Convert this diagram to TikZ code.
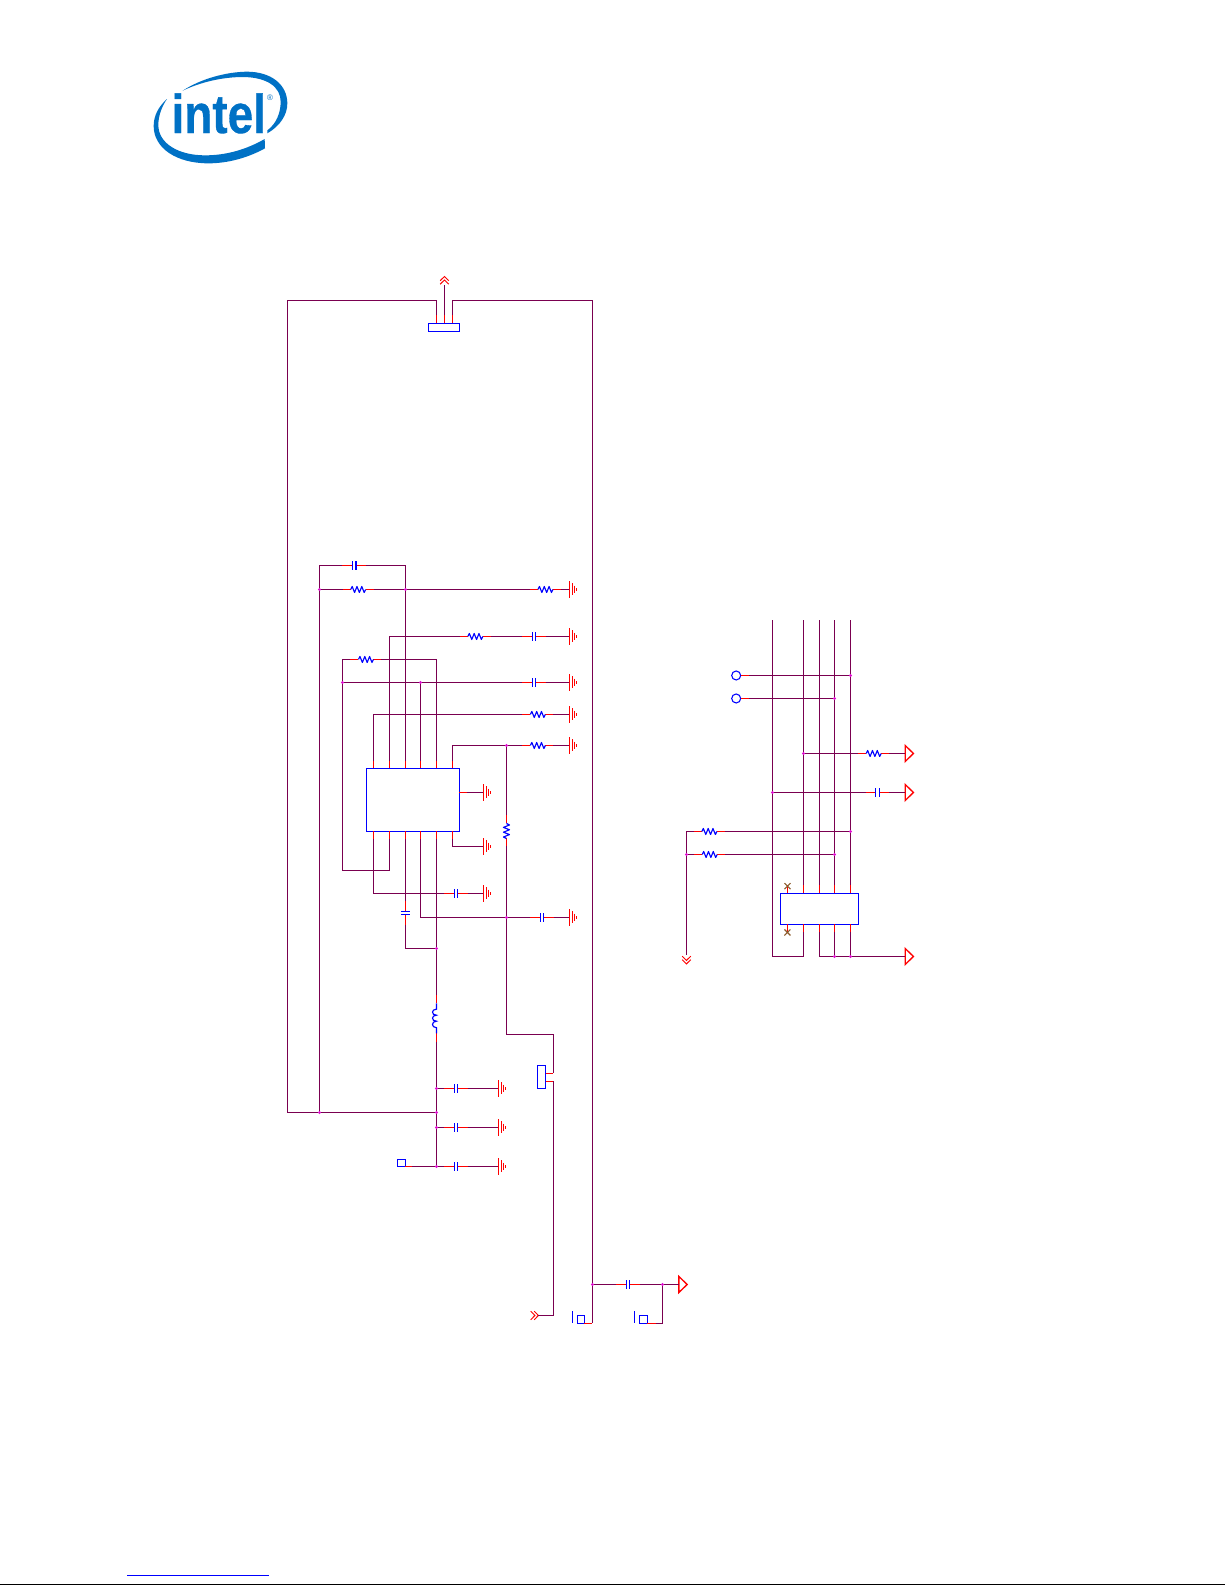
\documentclass[tikz,border=0pt]{standalone}
\usepackage{fontspec}
\setmainfont{Liberation Sans}
\newfontfamily\logofont[FakeBold=0.6]{Liberation Sans Bold}
\definecolor{wirec}{HTML}{7A0050}
\definecolor{dotc}{HTML}{E010D0}
\definecolor{xc}{HTML}{8B5A2B}
\definecolor{logoc}{HTML}{0071C5}
\tikzset{
  wire/.style={draw=wirec,line width=0.95pt,line join=miter},
  lead/.style={draw=red,line width=0.95pt},
  blu/.style={draw=blue,line width=0.85pt},
  blubox/.style={draw=blue,line width=1pt,inner sep=0pt,outer sep=0pt,fill=white},
  redl/.style={draw=red,line width=1pt},
  jun/.style={fill=dotc},
  resh/.pic={
    \draw[lead] (-15.5,0) -- (-7.5,0) (7.5,0) -- (15.5,0);
    \draw[blu,line join=round] (-7.5,0) -- (-6,-3) -- (-3.6,3) -- (-1.2,-3) -- (1.2,3) -- (3.6,-3) -- (6,3) -- (7.5,0);
    \coordinate (-a) at (-15.5,0);
    \coordinate (-b) at (15.5,0);
  },
  caph/.pic={
    \draw[lead] (-11.7,0) -- (-1.85,0) (1.85,0) -- (11.7,0);
    \draw[blu] (-1.85,-4.3) -- (-1.85,4.3) (1.85,-4.3) -- (1.85,4.3);
    \coordinate (-a) at (-11.7,0);
    \coordinate (-b) at (11.7,0);
  },
  gnd/.pic={
    \draw[redl] (0,-8.2) -- (0,8.2) (2.7,-6) -- (2.7,6) (5,-3.8) -- (5,3.8) (7,-1.2) -- (7,1.2);
    \coordinate (-a) at (0,0);
  },
  tri/.pic={
    \draw[redl,line join=miter] (0,-8) -- (8.3,0) -- (0,8) -- cycle;
    \coordinate (-a) at (0,0);
  },
  chev/.pic={
    \draw[draw=red,line width=0.7pt] (-4.3,-4.5) -- (0,-8.7) -- (4.3,-4.5) (-4.3,-1) -- (0,-5.2) -- (4.3,-1);
    \coordinate (-a) at (0,0);
  },
  xmark/.pic={
    \draw[draw=xc,line width=0.8pt] (-3,-3) -- (3,3) (-3,3) -- (3,-3);
  },
}
\newcommand{\jdot}[1]{\fill[jun] (#1) circle (1.6);}
\begin{document}
\begin{tikzpicture}[x=0.75pt,y=-0.75pt]
\useasboundingbox (0,0) rectangle (1225,1585);
\fill[white] (0,0) rectangle (1225,1585);

% logo
\begin{scope}[shift={(130,50)},x=0.25pt,y=-0.25pt]
\fill[logoc] (158,122) .. controls (215,85) and (290,66) .. (350,65)
  .. controls (425,65) and (472,105) .. (472,160)
  .. controls (472,195) and (450,228) .. (412,250)
  -- (412,241) .. controls (438,222) and (452,190) .. (452,155)
  .. controls (452,110) and (410,82) .. (340,81)
  .. controls (280,81) and (215,95) .. (158,122) -- cycle;
\fill[logoc] (111,147) .. controls (85,170) and (71,198) .. (71,228)
  .. controls (71,295) and (140,340) .. (235,340)
  .. controls (300,340) and (360,320) .. (405,295)
  -- (404,267) .. controls (350,298) and (290,316) .. (225,316)
  .. controls (145,316) and (85,280) .. (85,225)
  .. controls (85,198) and (95,170) .. (111,147) -- cycle;
\node[text=logoc,inner sep=0pt,anchor=base west,xscale=0.84] (logotext) at (124,249) {\fontsize{41pt}{41pt}\selectfont\logofont intel};
\node[text=logoc,inner sep=0pt] (logoreg) at (420,142) {\fontsize{6pt}{6pt}\selectfont ®};
\end{scope}

% footer
\draw[draw=blue,line width=0.9pt] (127,1575.5) -- (269,1575.5);
\draw[draw=black,line width=1.1pt] (0,1584.3) -- (1225,1584.3);

\begin{scope}[shift={(0.17,0.17)}]
% ---------- left sheet: parts
\node[blubox,minimum width=69.75pt,minimum height=47.25pt] (ic1) at (412.83,799.83) {};
\node[blubox,minimum width=23.25pt,minimum height=6pt] (j1) at (443.83,327.33) {};
\node[blubox,minimum width=6pt,minimum height=17.25pt] (j2) at (541.33,1076.83) {};
\node[blubox,minimum width=6pt,minimum height=5.25pt] (tp1) at (401.33,1162.83) {};
\node[blubox,minimum width=5.25pt,minimum height=6pt] (tp2) at (580.83,1319.33) {};
\node[blubox,minimum width=6pt,minimum height=6pt] (tp3) at (643.33,1319.33) {};

\pic (c1) at (354,565.3) {caph};
\pic (r1) at (358,589.3) {resh};
\pic (r2) at (545.3,589.3) {resh};
\pic (g1) at (569.3,589.3) {gnd};
\pic (r3) at (475.2,636.3) {resh};
\pic (c2) at (533.85,636.3) {caph};
\pic (g2) at (569.3,636.3) {gnd};
\pic (r4) at (365.8,659.3) {resh};
\pic (c3) at (533.85,682.3) {caph};
\pic (g3) at (569.3,682.3) {gnd};
\pic (r5) at (537.7,714.3) {resh};
\pic (g4) at (569.3,714.3) {gnd};
\pic (r6) at (537.7,745.3) {resh};
\pic (g5) at (569.3,745.3) {gnd};
\pic (g6) at (483.3,792.3) {gnd};
\pic (g7) at (483.3,846.3) {gnd};
\pic (c4) at (455.85,893.3) {caph};
\pic (g8) at (483.3,893.3) {gnd};
\pic[rotate=-90] (c5) at (405.3,912.9) {caph};
\pic (c6) at (541.85,917.3) {caph};
\pic (g9) at (569.3,917.3) {gnd};
\pic[rotate=-90] (r7) at (506.3,830.8) {resh};
\pic (c7) at (455.85,1088.3) {caph};
\pic (g10) at (498.3,1088.3) {gnd};
\pic (c8) at (455.85,1127.3) {caph};
\pic (g11) at (498.3,1127.3) {gnd};
\pic (c9) at (455.85,1166.3) {caph};
\pic (g12) at (498.3,1166.3) {gnd};
\pic (c10) at (627.85,1284.3) {caph};
\pic (t1) at (678.7,1284.3) {tri};
\pic (ch1) at (444.3,285) {chev};
\pic[rotate=-90] (ch2) at (529.5,1315.3) {chev};

% inductor
\coordinate (la) at (436.3,995);
\coordinate (lb) at (436.3,1042);
\draw[lead] (la) -- (436.3,1003.3) (436.3,1033.3) -- (lb);
\draw[blu] (436.3,1003.3) -- (436.3,1009) .. controls (431,1009) and (431,1015) .. (436.3,1015)
  .. controls (431,1015) and (431,1021) .. (436.3,1021)
  .. controls (431,1021) and (431,1027.5) .. (436.3,1027.5) -- (436.3,1033.3);

% pin stubs of ic1
\foreach \n/\x in {1/373.3,2/389.3,3/405.3,4/420.3,5/436.3,6/452.3}{
  \coordinate (ta\n) at (\x,760.7);
  \coordinate (bb\n) at (\x,839.3);
  \draw[lead] (\x,760.7) -- (\x,768.3) (\x,831) -- (\x,839.3);
}
\coordinate (ic1r) at (467.3,792.3);
\draw[lead] (459.3,792.3) -- (ic1r);

% j1 pins
\coordinate (jl) at (436.3,315);
\coordinate (jm) at (444.3,315);
\coordinate (jr) at (452.3,315);
\draw[lead] (jl) -- (436.3,323.3) (jm) -- (444.3,323.3) (jr) -- (452.3,323.3);
% j2 pins
\coordinate (j2a) at (553.3,1073.3);
\coordinate (j2b) at (553.3,1081.3);
\draw[lead] (545.7,1073.3) -- (j2a) (545.7,1081.3) -- (j2b);
% test points
\coordinate (tp1r) at (412,1166.3);
\draw[lead] (405.3,1166.3) -- (tp1r);
\coordinate (tp2r) at (592.3,1323.3);
\draw[lead] (584,1323.3) -- (tp2r);
\coordinate (tp3r) at (655.7,1323.3);
\draw[lead] (647.3,1323.3) -- (tp3r);
\draw[blu] (572.3,1311) -- (572.3,1322.7);
\draw[blu] (634.3,1311) -- (634.3,1322.7);

% ---------- left sheet: junctions and corners
\coordinate (tl) at (287.3,300.3);
\coordinate (tr) at (592.3,300.3);
\coordinate (jn1) at (319.3,589.3);
\coordinate (jn2) at (405.3,589.3);
\coordinate (jn3) at (342.3,682.3);
\coordinate (jn4) at (420.3,682.3);
\coordinate (jn5) at (506.3,745.3);
\coordinate (jn6) at (506.3,917.3);
\coordinate (jn7) at (436.3,948.3);
\coordinate (jn8) at (436.3,1088.3);
\coordinate (jn9) at (436.3,1112.3);
\coordinate (jn10) at (436.3,1127.3);
\coordinate (jn11) at (436.3,1166.3);
\coordinate (jn12) at (319.3,1112.3);
\coordinate (jn13) at (592.3,1284.3);
\coordinate (jn14) at (662.3,1284.3);
\coordinate (lw) at (287.3,1112.3);
\coordinate (cnr) at (342.3,870.3);
\coordinate (cj2) at (553.3,1034.3);

% ---------- left sheet: wires
\draw[wire] (jl) |- (tl) -- (lw) -- (jn9);
\draw[wire] (jr) |- (tr) -- (592.3,1323.3);
\draw[wire] (jm) -- (ch1-a);
\draw[wire] (c1-a) -| (jn12);
\draw[wire] (c1-b) -| (ta3);
\draw[wire] (jn1) -- (r1-a);
\draw[wire] (r1-b) -- (r2-a);
\draw[wire] (r2-b) -- (g1-a);
\draw[wire] (ta2) |- (r3-a);
\draw[wire] (r3-b) -- (c2-a);
\draw[wire] (c2-b) -- (g2-a);
\draw[wire] (r4-a) -| (cnr) -| (bb2);
\draw[wire] (r4-b) -| (ta5);
\draw[wire] (jn3) -- (c3-a);
\draw[wire] (c3-b) -- (g3-a);
\draw[wire] (jn4) -- (ta4);
\draw[wire] (ta1) |- (r5-a);
\draw[wire] (r5-b) -- (g4-a);
\draw[wire] (ta6) |- (r6-a);
\draw[wire] (r6-b) -- (g5-a);
\draw[wire] (jn5) -- (r7-a);
\draw[wire] (r7-b) -- (506.3,1034.3) -- (cj2) -- (j2a);
\draw[wire] (j2b) -- (553.3,1315.3) -- (538,1315.3);
\draw[wire] (ic1r) -- (g6-a);
\draw[wire] (bb6) |- (g7-a);
\draw[wire] (bb1) |- (c4-a);
\draw[wire] (c4-b) -- (g8-a);
\draw[wire] (bb3) -- (c5-a);
\draw[wire] (c5-b) |- (jn7);
\draw[wire] (bb4) |- (c6-a);
\draw[wire] (c6-b) -- (g9-a);
\draw[wire] (bb5) -- (la);
\draw[wire] (lb) -- (jn11);
\draw[wire] (jn8) -- (c7-a);
\draw[wire] (c7-b) -- (g10-a);
\draw[wire] (jn10) -- (c8-a);
\draw[wire] (c8-b) -- (g11-a);
\draw[wire] (tp1r) -- (jn11) -- (c9-a);
\draw[wire] (c9-b) -- (g12-a);
\draw[wire] (jn13) -- (c10-a);
\draw[wire] (c10-b) -- (t1-a);
\draw[wire] (jn14) |- (tp3r);

\foreach \c in {jn1,jn2,jn3,jn4,jn5,jn6,jn7,jn8,jn9,jn10,jn11,jn12,jn13,jn14}{\jdot{\c}}

% ---------- right sheet
\node[blubox,minimum width=58.5pt,minimum height=23.25pt] (ic2) at (819.33,908.83) {};
\node[draw=blue,line width=0.8pt,circle,inner sep=0pt,minimum size=6.75pt,fill=white] (o1) at (736,675.3) {};
\node[draw=blue,line width=0.8pt,circle,inner sep=0pt,minimum size=6.75pt,fill=white] (o2) at (736,698.3) {};

\coordinate (o1b) at (749,675.3);
\coordinate (o2b) at (749,698.3);
\draw[lead] (o1.east) -- (o1b);
\draw[lead] (o2.east) -- (o2b);

\coordinate (v1) at (772.3,620);
\coordinate (v2) at (803.3,620);
\coordinate (v3) at (819.3,620);
\coordinate (v4) at (834.3,620);
\coordinate (v5) at (850.3,620);
\foreach \n/\x in {2/803.3,3/819.3,4/834.3,5/850.3}{
  \coordinate (pt\n) at (\x,885);
  \coordinate (pb\n) at (\x,932.3);
  \draw[lead] (\x,885) -- (\x,893.3) (\x,924.3) -- (\x,932.3);
}
\draw[lead] (787.3,886) -- (787.3,893.3) (787.3,924.3) -- (787.3,932.3);
\pic (x1) at (787.3,886) {xmark};
\pic (x2) at (787.3,932.3) {xmark};

\pic (r8) at (873.5,753.3) {resh};
\pic (t2) at (905,753.3) {tri};
\pic (c11) at (877.5,792.3) {caph};
\pic (t3) at (905,792.3) {tri};
\pic (r9) at (709.2,831.3) {resh};
\pic (r10) at (709.5,854.3) {resh};
\pic[rotate=180] (ch3) at (686.3,955) {chev};
\pic (t4) at (905,956.3) {tri};

\coordinate (k1) at (850.3,675.3);
\coordinate (k2) at (834.3,698.3);
\coordinate (k3) at (803.3,753.3);
\coordinate (k4) at (772.3,792.3);
\coordinate (k5) at (850.3,831.3);
\coordinate (k6) at (834.3,854.3);
\coordinate (k7) at (686.3,854.3);
\coordinate (k8) at (834.3,956.3);
\coordinate (k9) at (850.3,956.3);
\coordinate (k10) at (772.3,956.3);
\coordinate (k11) at (803.3,956.3);
\coordinate (k12) at (819.3,956.3);
\coordinate (k13) at (686.3,831.3);

\draw[wire] (v1) -- (k10) -- (k11) -- (pb2);
\draw[wire] (v2) -- (pt2);
\draw[wire] (v3) -- (pt3);
\draw[wire] (v4) -- (pt4);
\draw[wire] (v5) -- (pt5);
\draw[wire] (pb3) -- (k12) -- (t4-a);
\draw[wire] (pb4) -- (k8);
\draw[wire] (pb5) -- (k9);
\draw[wire] (o1b) -- (k1);
\draw[wire] (o2b) -- (k2);
\draw[wire] (k3) -- (r8-a);
\draw[wire] (r8-b) -- (t2-a);
\draw[wire] (k4) -- (c11-a);
\draw[wire] (c11-b) -- (t3-a);
\draw[wire] (k13) -- (r9-a);
\draw[wire] (r9-b) -- (k5);
\draw[wire] (k7) -- (r10-a);
\draw[wire] (r10-b) -- (k6);
\draw[wire] (k13) -- (ch3-a);

\foreach \c in {k1,k2,k3,k4,k5,k6,k7,k8,k9}{\jdot{\c}}
\end{scope}
\end{tikzpicture}
\end{document}
